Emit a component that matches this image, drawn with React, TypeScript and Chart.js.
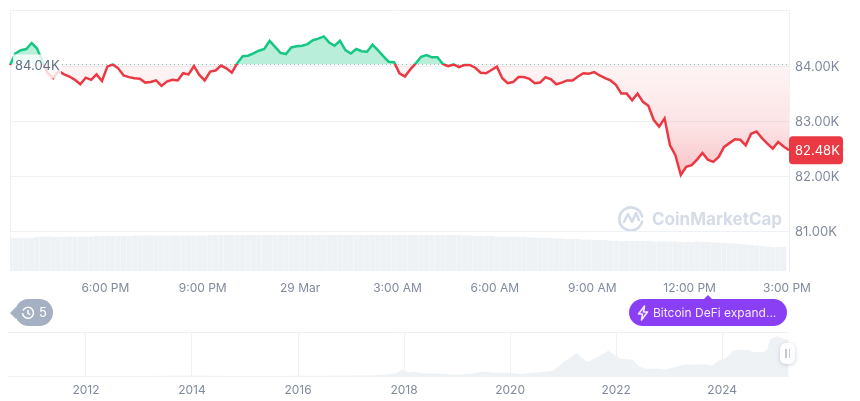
import React, { useEffect, useRef } from 'react';
import { Chart, registerables } from 'chart.js';

Chart.register(...registerables);

const FONT = 'Inter';
const RED = '#ea3943';
const GREEN = '#16c784';
const GRID = '#eff2f5';
const TICK = '#808a9d';

const openPrice = 84.04;
const lastPrice = 82.48;

// one point every 10 minutes, 3:00 PM to 3:00 PM next day
const priceValues = [
  84.03, 84.24, 84.3, 84.32, 84.43, 84.33, 84.09, 83.88, 83.79, 83.92, 83.86, 83.82, 83.76, 83.68, 83.8, 83.76,
  83.86, 83.74, 84.0, 84.04, 83.97, 83.84, 83.81, 83.79, 83.78, 83.71, 83.72, 83.75, 83.65, 83.73, 83.76, 83.75,
  83.88, 83.86, 84.01, 83.85, 83.75, 83.91, 83.93, 84.02, 83.97, 83.89, 84.06, 84.19, 84.2, 84.24, 84.29, 84.32,
  84.47, 84.36, 84.25, 84.23, 84.35, 84.37, 84.38, 84.41, 84.48, 84.51, 84.55, 84.44, 84.38, 84.47, 84.3, 84.24,
  84.32, 84.28, 84.27, 84.4, 84.3, 84.19, 84.09, 84.08, 83.88, 83.82, 83.95, 84.06, 84.18, 84.21, 84.17, 84.17,
  84.05, 84.01, 84.04, 83.99, 84.03, 84.03, 83.98, 83.89, 83.88, 83.94, 84.0, 83.79, 83.7, 83.72, 83.81, 83.81,
  83.78, 83.7, 83.71, 83.81, 83.77, 83.68, 83.71, 83.75, 83.75, 83.82, 83.88, 83.87, 83.9, 83.84, 83.79, 83.75,
  83.67, 83.51, 83.51, 83.39, 83.51, 83.36, 83.29, 83.03, 82.91, 83.06, 82.57, 82.39, 82.03, 82.18, 82.21, 82.31,
  82.43, 82.31, 82.27, 82.36, 82.54, 82.61, 82.68, 82.67, 82.57, 82.78, 82.82, 82.7, 82.6, 82.51, 82.63, 82.55,
  82.48,
];

const volumeValues = [
  33, 33, 33, 33, 33, 34, 34.5, 34.5, 34, 34, 34, 34.5, 34.5, 34.5, 34.5, 34.5,
  35, 35, 35, 35, 35, 35, 35, 35.5, 35.5, 35.5, 35.5, 35.5, 35.5, 35.5, 35.5, 35.5,
  35.5, 35.5, 35.5, 35.5, 35.5, 36, 36, 36, 36, 36, 36, 36, 36, 36, 36, 36,
  36, 36, 36, 36, 36, 36, 36, 36, 36, 36, 36, 36, 36, 36, 36, 36,
  36, 36, 36, 36, 36, 36, 36, 36, 36, 36, 36, 36, 36, 36, 36, 36,
  36, 36, 36, 36, 35.5, 35.5, 35, 35, 35, 35, 34.5, 34.5, 34, 34, 34, 34,
  33.5, 33.5, 33, 33, 33, 32.5, 32.5, 32, 32, 32, 31.5, 31.5, 31, 31, 31, 30.5,
  30.5, 30, 30, 30, 30, 30, 30, 29.5, 29.5, 29.5, 29.5, 29.5, 29, 29, 29, 29.5,
  29, 29, 28.5, 28.5, 28, 27.5, 27.5, 27, 26.5, 26, 25.5, 25, 24.5, 24, 24,
  24,
];

const timeTickIndexes = [18, 36, 54, 72, 90, 108, 126, 144];
const timeTickLabels = ['6:00 PM', '9:00 PM', '29 Mar', '3:00 AM', '6:00 AM', '9:00 AM', '12:00 PM', '3:00 PM'];
const priceTicks = [81, 82, 83, 84];

const overviewYears = [
  2010.53, 2013.0, 2013.9, 2014.5, 2015, 2016, 2016.5, 2017, 2017.3, 2017.5, 2017.7, 2017.85, 2017.96, 2018.1, 2018.2,
  2018.3, 2018.5, 2018.9, 2019, 2019.25, 2019.5, 2019.75, 2020, 2020.2, 2020.5, 2020.8, 2021, 2021.05, 2021.1, 2021.26,
  2021.35, 2021.45, 2021.64, 2021.85, 2022.08, 2022.3, 2022.45, 2022.55, 2022.8, 2022.9, 2023.03, 2023.1, 2023.27, 2023.7,
  2023.8, 2023.96, 2024.05, 2024.15, 2024.19, 2024.47, 2024.6, 2024.77, 2024.85, 2024.9, 2025, 2025.05, 2025.15, 2025.25,
];
const overviewPrices = [
  0, 0.01, 1, 0.6, 0.3, 0.4, 0.65, 1, 1.2, 2.5, 4.5, 7, 17, 9, 11,
  7, 7, 4, 3.5, 5, 12, 8, 8, 5.5, 9.5, 13, 36, 42, 45, 62,
  50, 37, 50, 67, 46, 44, 24, 20, 19, 16.5, 21, 23, 30, 31,
  27, 43, 46, 58, 68, 70, 64, 63, 70, 98, 104, 106, 100, 95,
];
const overviewTicks = [2012, 2014, 2016, 2018, 2020, 2022, 2024];

const priceTagsPlugin = {
  id: 'priceTags',
  afterDatasetsDraw(chart: any) {
    const { ctx, scales } = chart;
    const yOpen = scales.y.getPixelForValue(openPrice);
    const yLast = scales.y.getPixelForValue(lastPrice);
    ctx.save();
    ctx.fillStyle = 'rgba(255,255,255,0.8)';
    ctx.fillRect(13, yOpen - 10, 48, 24);
    ctx.font = `13px ${FONT}`;
    ctx.textBaseline = 'middle';
    ctx.fillStyle = '#616e85';
    ctx.fillText(openPrice.toFixed(2) + 'K', 15, yOpen + 2);
    ctx.fillStyle = RED;
    ctx.beginPath();
    ctx.roundRect(789, yLast - 14, 54, 28, 4);
    ctx.fill();
    ctx.fillStyle = '#ffffff';
    ctx.fillText(lastPrice.toFixed(2) + 'K', 795, yLast + 1);
    ctx.restore();
  },
};

const App: React.FC = () => {
  const mainRef = useRef<HTMLCanvasElement>(null);
  const overviewRef = useRef<HTMLCanvasElement>(null);

  useEffect(() => {
    if (!mainRef.current || !overviewRef.current) return;

    const main = new Chart(mainRef.current, {
      type: 'line',
      data: {
        labels: priceValues.map((_, i) => i),
        datasets: [
          {
            type: 'line',
            data: priceValues.map(() => openPrice),
            borderColor: '#a6b0c3',
            borderWidth: 1,
            borderDash: [1, 3],
            pointRadius: 0,
            fill: false,
            order: 2,
            yAxisID: 'y',
          },
          {
            type: 'line',
            data: priceValues,
            borderColor: RED,
            borderWidth: 2.5,
            pointRadius: 0,
            tension: 0,
            order: 1,
            yAxisID: 'y',
          },
          {
            type: 'bar',
            data: volumeValues,
            backgroundColor: GRID,
            barPercentage: 1,
            categoryPercentage: 0.98,
            order: 3,
            yAxisID: 'volume',
          },
        ],
      } as any,
      options: {
        responsive: false,
        animation: false,
        layout: { autoPadding: false, padding: { left: 8, top: 10 } },
        plugins: { legend: { display: false }, tooltip: { enabled: false } },
        scales: {
          x: {
            offset: false,
            border: { display: false },
            grid: {
              offset: false,
              drawTicks: false,
              color: (c: any) => (c.index === 0 ? GRID : 'transparent'),
            },
            ticks: {
              autoSkip: false,
              maxRotation: 0,
              padding: 10,
              labelOffset: -2,
              color: TICK,
              font: { family: FONT, size: 12 },
              callback: (_: any, i: number) => {
                const at = timeTickIndexes.indexOf(i);
                return at < 0 ? '' : timeTickLabels[at];
              },
            },
            afterFit: (s: any) => {
              s.height = 29;
            },
          },
          y: {
            position: 'right',
            min: 80.285,
            max: 85.03,
            afterBuildTicks: (s: any) => {
              s.ticks = priceTicks.map((value) => ({ value })).concat({ value: 85.03 });
            },
            border: { display: true, color: GRID },
            grid: { color: GRID, drawTicks: false },
            ticks: {
              padding: 6,
              color: TICK,
              font: { family: FONT, size: 13 },
              callback: (v: any) => (priceTicks.includes(v) ? `${Number(v).toFixed(2)}K` : ''),
            },
            afterFit: (s: any) => {
              s.width = 71;
              s.paddingTop = 0;
              s.paddingBottom = 0;
            },
          },
          volume: {
            display: false,
            min: 0,
            max: 261,
          },
        },
      } as any,
      plugins: [priceTagsPlugin],
    });

    // colours change at the opening price, so they need the scale's pixels
    const ctx = mainRef.current.getContext('2d')!;
    const baseY = main.scales.y.getPixelForValue(openPrice);
    const lowY = main.scales.y.getPixelForValue(82);
    const stop = baseY / 300;
    const stroke = ctx.createLinearGradient(0, 0, 0, 300);
    stroke.addColorStop(0, GREEN);
    stroke.addColorStop(stop, GREEN);
    stroke.addColorStop(stop, RED);
    stroke.addColorStop(1, RED);
    const below = ctx.createLinearGradient(0, baseY, 0, lowY);
    below.addColorStop(0, 'rgba(234,57,67,0.05)');
    below.addColorStop(0.55, 'rgba(234,57,67,0.14)');
    below.addColorStop(1, 'rgba(234,57,67,0.3)');
    const line = main.data.datasets[1] as any;
    line.borderColor = stroke;
    line.fill = { target: { value: openPrice }, above: 'rgba(22,199,132,0.3)', below };
    main.update();

    const overview = new Chart(overviewRef.current, {
      type: 'line',
      data: {
        datasets: [
          {
            data: overviewYears.map((x, i) => ({ x, y: overviewPrices[i] })),
            borderWidth: 0,
            pointRadius: 0,
            backgroundColor: GRID,
            fill: 'origin',
          },
        ],
      },
      options: {
        responsive: false,
        animation: false,
        layout: { autoPadding: false, padding: { left: 8, right: 71, top: 12 } },
        plugins: { legend: { display: false }, tooltip: { enabled: false } },
        scales: {
          x: {
            type: 'linear',
            min: 2010.53,
            max: 2025.26,
            afterBuildTicks: (s: any) => {
              s.ticks = overviewTicks.map((value) => ({ value }));
            },
            border: { display: false },
            grid: { color: GRID, drawTicks: false },
            ticks: {
              padding: 7,
              color: TICK,
              font: { family: FONT, size: 12 },
              callback: (v: any) => String(v),
            },
            afterFit: (s: any) => {
              s.height = 25;
            },
          },
          y: {
            min: 0,
            max: 117,
            afterBuildTicks: (s: any) => {
              s.ticks = [{ value: 0 }, { value: 117 }];
            },
            border: { display: false },
            grid: { color: GRID, drawTicks: false },
            ticks: { display: false },
            afterFit: (s: any) => {
              s.width = 0;
            },
          },
        },
      } as any,
    });

    return () => {
      main.destroy();
      overview.destroy();
    };
  }, []);

  return (
    <div style={{ position: 'fixed', left: 0, top: 0, width: 860, height: 401, background: '#fff', fontFamily: FONT }}>
      <canvas ref={mainRef} width={860} height={300} style={{ position: 'absolute', left: 0, top: 0 }} />
      <canvas ref={overviewRef} width={860} height={81} style={{ position: 'absolute', left: 0, top: 320 }} />

      {/* watermark */}
      <svg width={26} height={26} viewBox="0 0 26 26" style={{ position: 'absolute', left: 618, top: 205 }} fill="none" stroke="#d5dce8" strokeWidth={2.6}>
        <path d="M24 16.5a11.5 11.5 0 1 1 0-5" strokeLinecap="round" />
        <path d="M6 17l4-8 4 8 4-9 3 7" strokeLinejoin="round" strokeLinecap="round" />
      </svg>
      <div style={{ position: 'absolute', left: 652, top: 208, fontSize: 17, lineHeight: '22px', fontWeight: 700, color: '#d5dce8' }}>
        CoinMarketCap
      </div>

      {/* history badge */}
      <div style={{ position: 'absolute', left: 15, top: 299, width: 38, height: 27, borderRadius: 14, background: '#a6b0c3', color: '#fff', fontSize: 13, lineHeight: '27px' }}>
        <svg width={14} height={14} viewBox="0 0 14 14" style={{ position: 'absolute', left: 6, top: 7 }} fill="none" stroke="#fff" strokeWidth={1.5}>
          <path d="M2 4.5A5.5 5.5 0 1 1 1.5 7M7 4v3.4l2.2 1.3" />
        </svg>
        <span style={{ position: 'absolute', left: 24 }}>5</span>
      </div>
      <div style={{ position: 'absolute', left: 10, top: 307, width: 0, height: 0, borderTop: '6px solid transparent', borderBottom: '6px solid transparent', borderRight: '6px solid #a6b0c3' }} />

      {/* event badge */}
      <div style={{ position: 'absolute', left: 704, top: 295, width: 0, height: 0, borderLeft: '4px solid transparent', borderRight: '4px solid transparent', borderBottom: '4px solid #8a3ff5' }} />
      <div style={{ position: 'absolute', left: 629, top: 299, width: 158, height: 27, borderRadius: 14, background: '#8a3ff5', color: '#f3eaff', fontSize: 12, lineHeight: '27px', whiteSpace: 'nowrap' }}>
        <svg width={12} height={16} viewBox="0 0 12 16" style={{ position: 'absolute', left: 8, top: 6 }} fill="none" stroke="#f3eaff" strokeWidth={1.6} strokeLinejoin="round">
          <path d="M7.5 1L1.5 9h4l-1 6 6-8h-4z" />
        </svg>
        <span style={{ position: 'absolute', left: 24 }}>Bitcoin DeFi expand...</span>
      </div>

      {/* range handle */}
      <div style={{ position: 'absolute', left: 780, top: 343, width: 15, height: 21, borderRadius: 6, background: '#fff', boxShadow: '0 1px 4px rgba(88,102,126,0.3)' }}>
        <div style={{ position: 'absolute', left: 5, top: 6, width: 1.5, height: 9, background: '#c3cad6' }} />
        <div style={{ position: 'absolute', left: 8.5, top: 6, width: 1.5, height: 9, background: '#c3cad6' }} />
      </div>
    </div>
  );
};

export default App;
